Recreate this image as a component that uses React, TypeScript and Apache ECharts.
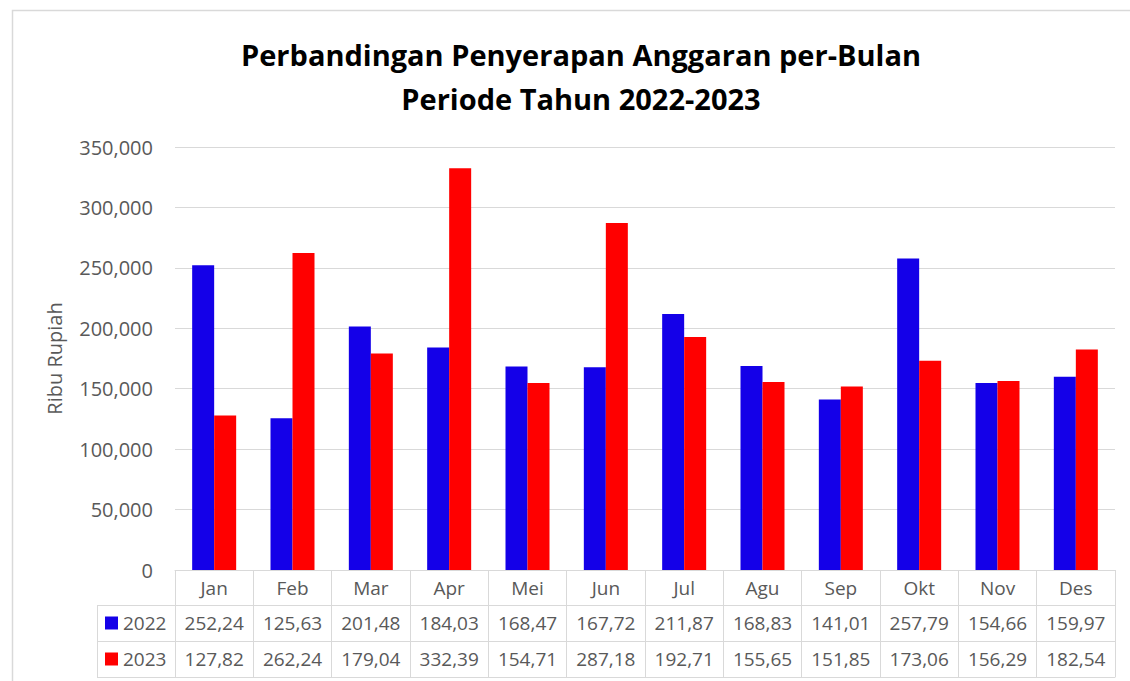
import React, { useEffect, useRef } from "react";
import * as echarts from "echarts";

const months = ["Jan", "Feb", "Mar", "Apr", "Mei", "Jun", "Jul", "Agu", "Sep", "Okt", "Nov", "Des"];
const seriesNames = ["2022", "2023"];
// values in millions (shown in the table as 252,24) ; plotted in thousands of Rupiah
const values2022 = [252.24, 125.63, 201.48, 184.03, 168.47, 167.72, 211.87, 168.83, 141.01, 257.79, 154.66, 159.97];
const values2023 = [127.82, 262.24, 179.04, 332.39, 154.71, 287.18, 192.71, 155.65, 151.85, 173.06, 156.29, 182.54];
const titleLines = ["Perbandingan Penyerapan Anggaran per-Bulan", "Periode Tahun 2022-2023"];
const yAxisName = "Ribu Rupiah";
const colors = ["#1400E8", "#FF0000"];

const GRID_LEFT = 175;
const GRID_RIGHT_X = 1115;
const GRID_TOP = 147;
const GRID_BOTTOM_Y = 570;
const ROW_OFFSETS = [0, 35, 71, 107];
const GRIDLINE = "#D9D9D9";
const TEXT = "#595959";
const FONT = "'Open Sans', sans-serif";
const TABLE_FS = 19;

const fmtTable = (v: number) => v.toFixed(2).replace(".", ",");
const fmtAxis = (v: number) => v.toLocaleString("en-US");

export default function App() {
  const ref = useRef<HTMLDivElement>(null);
  useEffect(() => {
    document.body.style.margin = "0";
    if (!ref.current) return;
    const chart = echarts.init(ref.current, undefined, { renderer: "svg" });
    const tableRows = [values2022, values2023];
    const baseX = (k: number) => ({
      type: "category" as const,
      data: months,
      position: "bottom" as const,
      gridIndex: 0,
      boundaryGap: true,
      offset: ROW_OFFSETS[k],
      axisLine: { show: true, lineStyle: { color: GRIDLINE, width: 1 } },
      axisTick: {
        show: k < 3,
        length: k < 3 ? ROW_OFFSETS[k + 1] - ROW_OFFSETS[k] : 0,
        interval: 0,
        alignWithLabel: false,
        lineStyle: { color: GRIDLINE, width: 1 },
      },
      splitLine: { show: false },
    });
    const xAxes: any[] = [
      {
        ...baseX(0),
        axisLabel: { show: true, interval: 0, margin: 8, color: TEXT, fontSize: TABLE_FS, fontFamily: FONT },
      },
      ...tableRows.map((row, i) => ({
        ...baseX(i + 1),
        axisLabel: {
          show: true,
          interval: 0,
          margin: 8,
          color: TEXT,
          fontSize: TABLE_FS,
          fontFamily: FONT,
          formatter: (_: string, idx: number) => fmtTable(row[idx]),
        },
      })),
      {
        ...baseX(3),
        axisLabel: { show: false },
      },
    ];
    const tableLeft = 97;
    const lineStyle = { stroke: GRIDLINE, lineWidth: 1 };
    const graphics: any[] = [
      {
        type: "rect",
        shape: { x: 12.5, y: 10.5, width: 1140, height: 700 },
        style: { fill: "none", stroke: GRIDLINE, lineWidth: 1.5 },
        silent: true,
        z: -10,
      },
      ...[1, 2, 3].map((k) => ({
        type: "line",
        shape: {
          x1: tableLeft,
          y1: GRID_BOTTOM_Y + ROW_OFFSETS[k] + 0.5,
          x2: GRID_LEFT,
          y2: GRID_BOTTOM_Y + ROW_OFFSETS[k] + 0.5,
        },
        style: lineStyle,
        silent: true,
      })),
      {
        type: "line",
        shape: {
          x1: tableLeft + 0.5,
          y1: GRID_BOTTOM_Y + ROW_OFFSETS[1],
          x2: tableLeft + 0.5,
          y2: GRID_BOTTOM_Y + ROW_OFFSETS[3],
        },
        style: lineStyle,
        silent: true,
      },
    ];
    chart.setOption({
      animation: false,
      backgroundColor: "#ffffff",
      title: {
        text: titleLines.join("\n"),
        left: 576,
        top: 27,
        textAlign: "center",
        textStyle: { fontFamily: FONT, fontWeight: "bold", fontSize: 29, color: "#000000", lineHeight: 44 },
      },
      legend: {
        data: seriesNames,
        orient: "vertical",
        left: 105,
        top: 613,
        padding: 0,
        itemWidth: 13,
        itemHeight: 13,
        itemGap: 16,
        icon: "rect",
        textStyle: { color: TEXT, fontSize: TABLE_FS, fontFamily: FONT, lineHeight: 20 },
      },
      grid: {
        left: GRID_LEFT,
        right: 1130 - GRID_RIGHT_X,
        top: GRID_TOP,
        bottom: 681 - GRID_BOTTOM_Y,
        containLabel: false,
      },
      xAxis: xAxes,
      yAxis: {
        type: "value",
        min: 0,
        max: 350000,
        interval: 50000,
        name: yAxisName,
        nameLocation: "middle",
        nameGap: 111,
        nameTextStyle: { color: TEXT, fontSize: 20, fontFamily: FONT },
        axisLine: { show: false },
        axisTick: { show: false },
        axisLabel: { color: TEXT, fontSize: 20, fontFamily: FONT, margin: 22, formatter: (v: number) => fmtAxis(v) },
        splitLine: { show: true, lineStyle: { color: GRIDLINE, width: 1 } },
      },
      series: [values2022, values2023].map((vals, i) => ({
        name: seriesNames[i],
        type: "bar",
        xAxisIndex: 0,
        data: vals.map((v) => v * 1000),
        barWidth: 22,
        barGap: "0%",
        itemStyle: { color: colors[i] },
      })),
      graphic: graphics,
    });
    return () => chart.dispose();
  }, []);
  return <div ref={ref} style={{ width: 1130, height: 681 }} />;
}
